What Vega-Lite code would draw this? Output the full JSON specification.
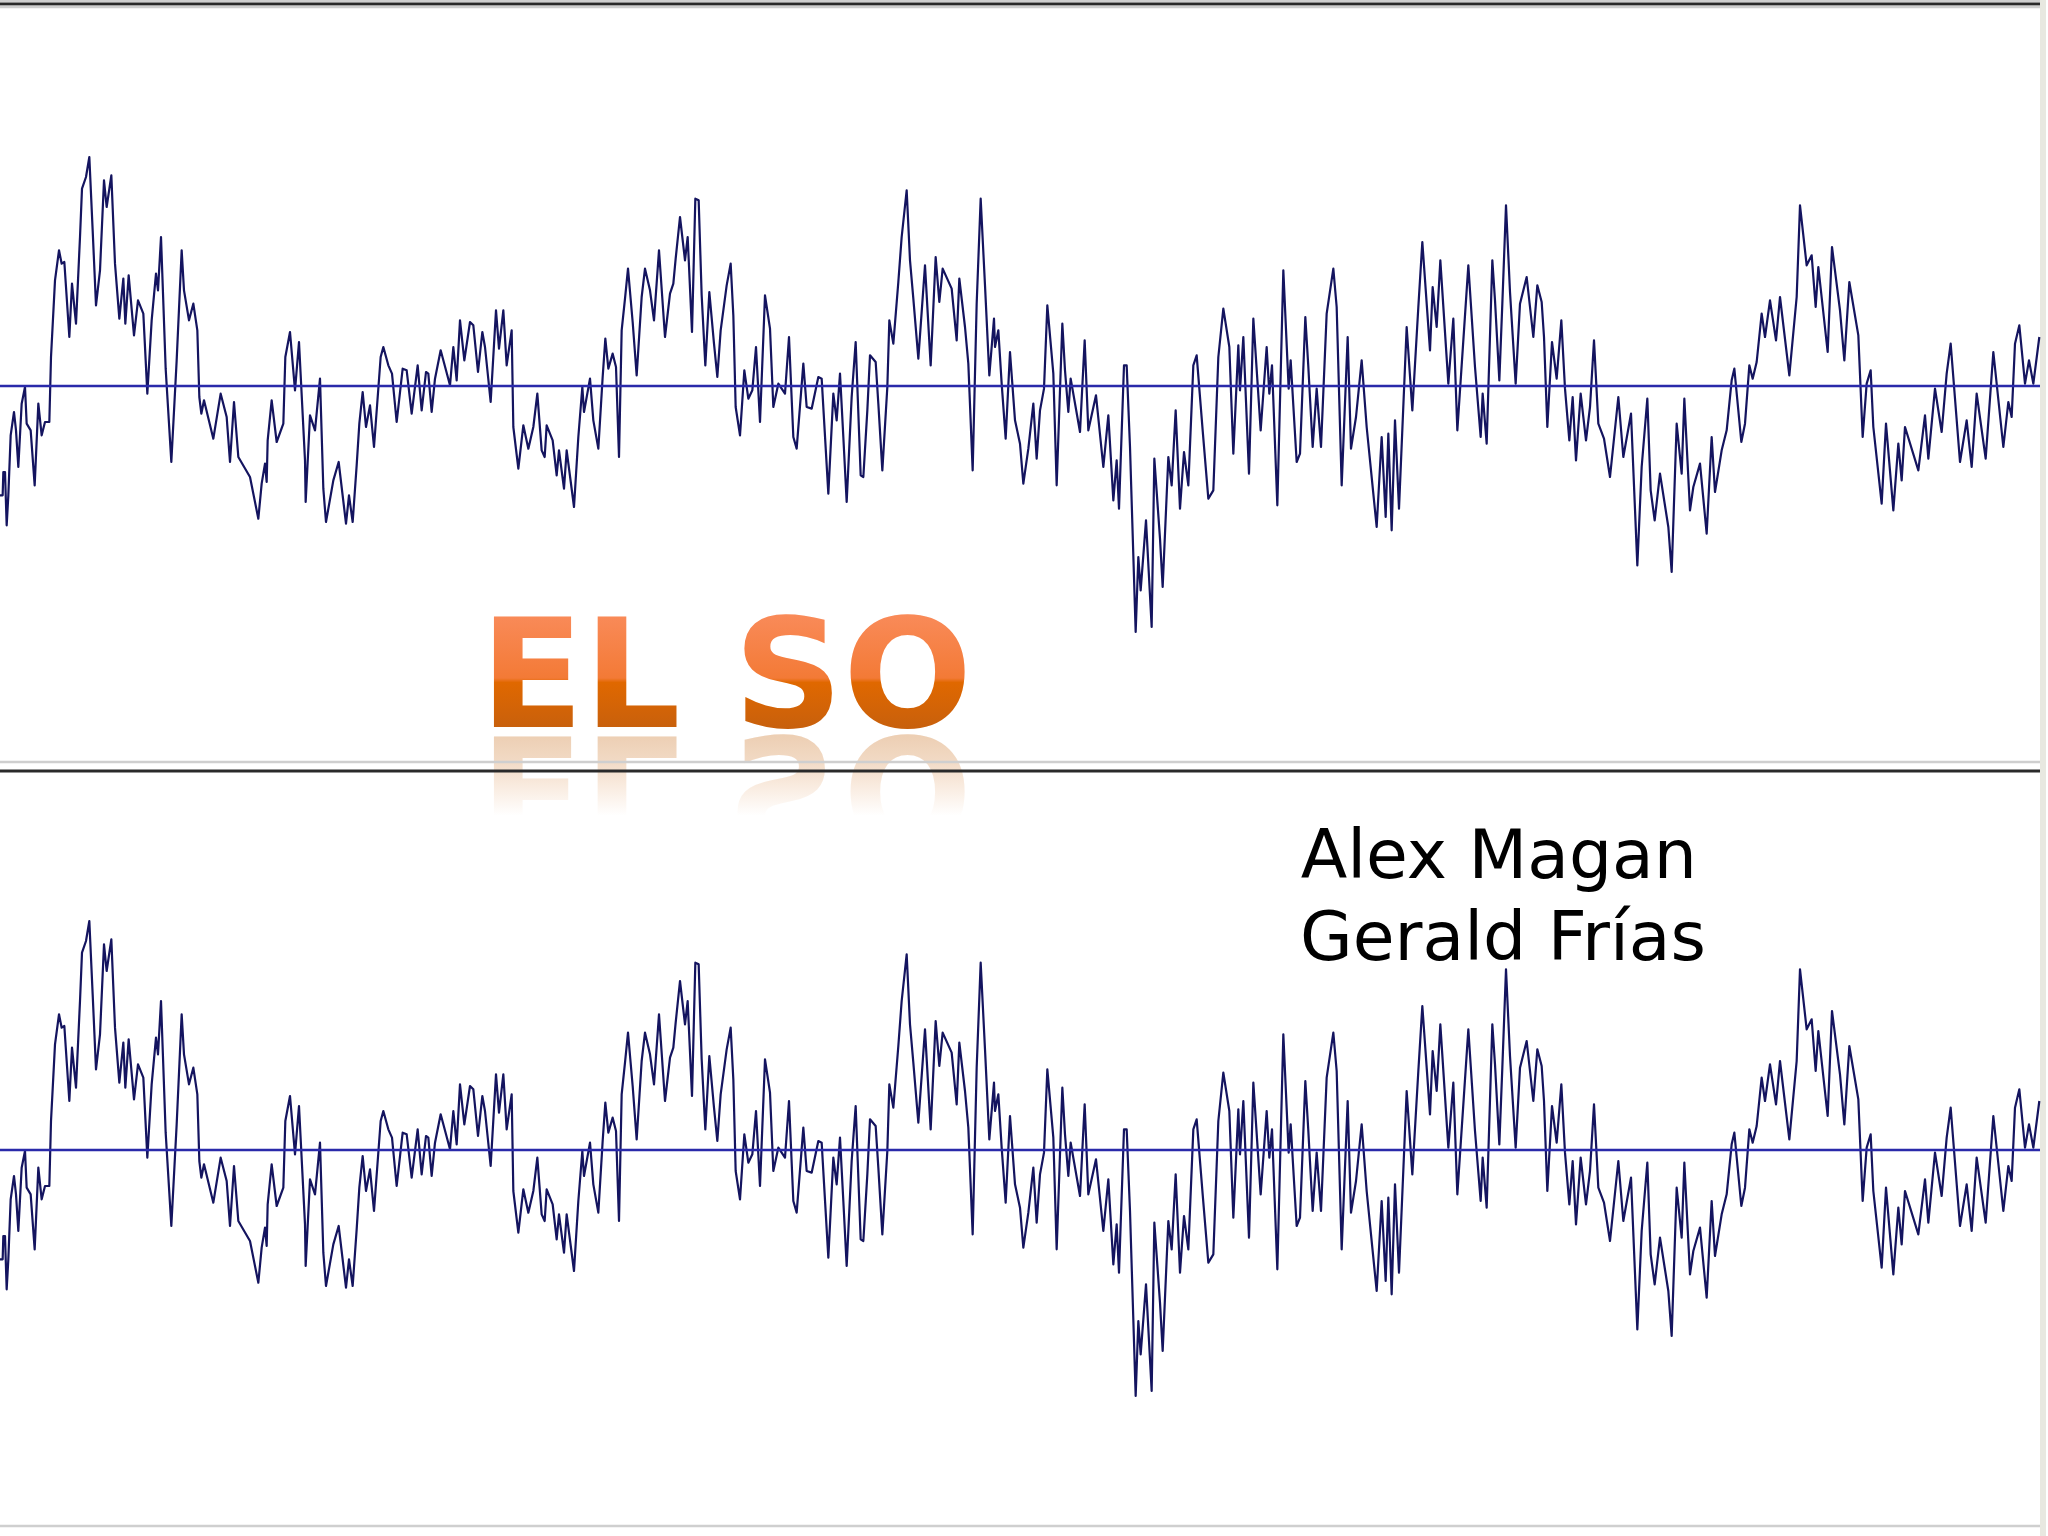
{"$schema":"https://vega.github.io/schema/vega-lite/v6.json","width":2048,"height":1536,"autosize":{"type":"fit","contains":"padding"},"padding":0,"background":"white","config":{"view":{"stroke":null}},"datasets":{"trace":[{"t":0,"a":-328},{"t":8,"a":-328},{"t":10,"a":-258},{"t":15,"a":-258},{"t":20,"a":-418},{"t":25,"a":-328},{"t":32,"a":-148},{"t":42,"a":-78},{"t":48,"a":-133},{"t":55,"a":-243},{"t":65,"a":-53},{"t":75,"a":-3},{"t":80,"a":-113},{"t":92,"a":-133},{"t":104,"a":-298},{"t":115,"a":-53},{"t":125,"a":-148},{"t":135,"a":-108},{"t":148,"a":-108},{"t":153,"a":87},{"t":165,"a":317},{"t":177,"a":407},{"t":185,"a":367},{"t":193,"a":372},{"t":208,"a":147},{"t":216,"a":307},{"t":228,"a":187},{"t":240,"a":447},{"t":246,"a":592},{"t":258,"a":627},{"t":268,"a":687},{"t":278,"a":467},{"t":288,"a":242},{"t":300,"a":347},{"t":312,"a":617},{"t":320,"a":537},{"t":334,"a":632},{"t":345,"a":367},{"t":358,"a":202},{"t":370,"a":322},{"t":376,"a":187},{"t":386,"a":332},{"t":402,"a":152},{"t":414,"a":257},{"t":430,"a":217},{"t":442,"a":-23},{"t":455,"a":197},{"t":468,"a":337},{"t":474,"a":287},{"t":483,"a":447},{"t":497,"a":52},{"t":514,"a":-228},{"t":530,"a":77},{"t":545,"a":407},{"t":552,"a":287},{"t":567,"a":197},{"t":580,"a":247},{"t":592,"a":167},{"t":598,"a":-33},{"t":604,"a":-83},{"t":612,"a":-43},{"t":640,"a":-158},{"t":662,"a":-23},{"t":680,"a":-93},{"t":690,"a":-228},{"t":702,"a":-48},{"t":715,"a":-213},{"t":750,"a":-273},{"t":775,"a":-398},{"t":785,"a":-293},{"t":795,"a":-233},{"t":800,"a":-288},{"t":803,"a":-163},{"t":815,"a":-43},{"t":830,"a":-168},{"t":850,"a":-113},{"t":856,"a":87},{"t":870,"a":162},{"t":885,"a":-13},{"t":897,"a":132},{"t":915,"a":-223},{"t":917,"a":-348},{"t":930,"a":-88},{"t":945,"a":-133},{"t":960,"a":22},{"t":970,"a":-308},{"t":978,"a":-408},{"t":1000,"a":-283},{"t":1016,"a":-228},{"t":1038,"a":-413},{"t":1047,"a":-328},{"t":1058,"a":-408},{"t":1070,"a":-238},{"t":1078,"a":-113},{"t":1088,"a":-18},{"t":1098,"a":-123},{"t":1110,"a":-58},{"t":1122,"a":-183},{"t":1142,"a":87},{"t":1150,"a":117},{"t":1165,"a":62},{"t":1176,"a":37},{"t":1190,"a":-108},{"t":1208,"a":52},{"t":1220,"a":47},{"t":1235,"a":-83},{"t":1253,"a":62},{"t":1265,"a":-73},{"t":1278,"a":42},{"t":1285,"a":37},{"t":1295,"a":-78},{"t":1305,"a":22},{"t":1322,"a":107},{"t":1350,"a":2},{"t":1360,"a":117},{"t":1370,"a":17},{"t":1380,"a":197},{"t":1393,"a":77},{"t":1410,"a":192},{"t":1420,"a":182},{"t":1434,"a":42},{"t":1447,"a":162},{"t":1455,"a":117},{"t":1472,"a":-48},{"t":1488,"a":227},{"t":1497,"a":112},{"t":1510,"a":227},{"t":1520,"a":62},{"t":1535,"a":167},{"t":1540,"a":-123},{"t":1555,"a":-248},{"t":1570,"a":-118},{"t":1585,"a":-188},{"t":1600,"a":-123},{"t":1612,"a":-23},{"t":1625,"a":-193},{"t":1634,"a":-213},{"t":1640,"a":-118},{"t":1658,"a":-163},{"t":1670,"a":-268},{"t":1677,"a":-193},{"t":1692,"a":-308},{"t":1700,"a":-193},{"t":1722,"a":-363},{"t":1735,"a":-153},{"t":1747,"a":-3},{"t":1752,"a":-78},{"t":1770,"a":22},{"t":1780,"a":-103},{"t":1795,"a":-188},{"t":1808,"a":27},{"t":1816,"a":142},{"t":1825,"a":52},{"t":1838,"a":97},{"t":1848,"a":57},{"t":1857,"a":-213},{"t":1865,"a":167},{"t":1875,"a":262},{"t":1884,"a":352},{"t":1898,"a":192},{"t":1910,"a":32},{"t":1925,"a":267},{"t":1935,"a":352},{"t":1950,"a":287},{"t":1962,"a":197},{"t":1977,"a":407},{"t":1995,"a":147},{"t":2010,"a":277},{"t":2020,"a":307},{"t":2027,"a":382},{"t":2040,"a":507},{"t":2055,"a":377},{"t":2063,"a":447},{"t":2076,"a":162},{"t":2086,"a":562},{"t":2096,"a":557},{"t":2105,"a":272},{"t":2116,"a":62},{"t":2128,"a":282},{"t":2142,"a":127},{"t":2152,"a":27},{"t":2162,"a":167},{"t":2180,"a":302},{"t":2192,"a":367},{"t":2200,"a":212},{"t":2207,"a":-63},{"t":2220,"a":-148},{"t":2233,"a":47},{"t":2245,"a":-38},{"t":2257,"a":-13},{"t":2268,"a":117},{"t":2280,"a":-108},{"t":2295,"a":272},{"t":2310,"a":172},{"t":2320,"a":-63},{"t":2335,"a":7},{"t":2355,"a":-23},{"t":2367,"a":147},{"t":2380,"a":-153},{"t":2390,"a":-188},{"t":2410,"a":67},{"t":2420,"a":-63},{"t":2435,"a":-68},{"t":2455,"a":27},{"t":2465,"a":22},{"t":2485,"a":-323},{"t":2500,"a":-23},{"t":2510,"a":-103},{"t":2520,"a":37},{"t":2530,"a":-153},{"t":2540,"a":-348},{"t":2555,"a":-33},{"t":2567,"a":132},{"t":2582,"a":-268},{"t":2590,"a":-273},{"t":2602,"a":-73},{"t":2610,"a":92},{"t":2627,"a":72},{"t":2635,"a":-53},{"t":2647,"a":-253},{"t":2662,"a":-3},{"t":2668,"a":197},{"t":2680,"a":127},{"t":2695,"a":312},{"t":2705,"a":447},{"t":2720,"a":587},{"t":2730,"a":377},{"t":2740,"a":262},{"t":2755,"a":82},{"t":2775,"a":362},{"t":2792,"a":62},{"t":2807,"a":387},{"t":2818,"a":252},{"t":2828,"a":352},{"t":2855,"a":292},{"t":2870,"a":137},{"t":2878,"a":322},{"t":2895,"a":177},{"t":2905,"a":67},{"t":2918,"a":-253},{"t":2930,"a":247},{"t":2942,"a":562},{"t":2955,"a":302},{"t":2968,"a":32},{"t":2982,"a":202},{"t":2985,"a":117},{"t":2995,"a":167},{"t":3005,"a":7},{"t":3017,"a":-158},{"t":3030,"a":102},{"t":3045,"a":-103},{"t":3060,"a":-173},{"t":3070,"a":-293},{"t":3085,"a":-188},{"t":3100,"a":-53},{"t":3110,"a":-218},{"t":3120,"a":-73},{"t":3132,"a":-8},{"t":3142,"a":242},{"t":3160,"a":37},{"t":3170,"a":-298},{"t":3187,"a":187},{"t":3195,"a":47},{"t":3205,"a":-78},{"t":3212,"a":22},{"t":3240,"a":-138},{"t":3254,"a":137},{"t":3265,"a":-133},{"t":3288,"a":-28},{"t":3310,"a":-243},{"t":3325,"a":-88},{"t":3340,"a":-343},{"t":3350,"a":-223},{"t":3357,"a":-368},{"t":3372,"a":62},{"t":3380,"a":62},{"t":3390,"a":-183},{"t":3407,"a":-738},{"t":3415,"a":-513},{"t":3422,"a":-613},{"t":3438,"a":-403},{"t":3455,"a":-723},{"t":3463,"a":-218},{"t":3480,"a":-458},{"t":3488,"a":-603},{"t":3505,"a":-213},{"t":3515,"a":-298},{"t":3527,"a":-73},{"t":3540,"a":-368},{"t":3552,"a":-198},{"t":3565,"a":-298},{"t":3580,"a":62},{"t":3590,"a":92},{"t":3608,"a":-133},{"t":3625,"a":-338},{"t":3640,"a":-313},{"t":3655,"a":87},{"t":3670,"a":232},{"t":3688,"a":117},{"t":3700,"a":-203},{"t":3715,"a":122},{"t":3720,"a":-13},{"t":3730,"a":147},{"t":3747,"a":-263},{"t":3760,"a":202},{"t":3782,"a":-133},{"t":3800,"a":117},{"t":3808,"a":-23},{"t":3816,"a":62},{"t":3832,"a":-358},{"t":3850,"a":347},{"t":3866,"a":-8},{"t":3872,"a":77},{"t":3890,"a":-228},{"t":3900,"a":-203},{"t":3916,"a":207},{"t":3925,"a":57},{"t":3938,"a":-183},{"t":3950,"a":-8},{"t":3963,"a":-183},{"t":3980,"a":217},{"t":4000,"a":352},{"t":4010,"a":237},{"t":4025,"a":-298},{"t":4043,"a":147},{"t":4053,"a":-188},{"t":4068,"a":-93},{"t":4085,"a":77},{"t":4100,"a":-123},{"t":4130,"a":-423},{"t":4145,"a":-153},{"t":4157,"a":-393},{"t":4165,"a":-143},{"t":4175,"a":-433},{"t":4185,"a":-103},{"t":4197,"a":-368},{"t":4220,"a":177},{"t":4237,"a":-73},{"t":4255,"a":237},{"t":4267,"a":432},{"t":4290,"a":107},{"t":4298,"a":297},{"t":4310,"a":177},{"t":4321,"a":377},{"t":4345,"a":7},{"t":4360,"a":202},{"t":4372,"a":-133},{"t":4405,"a":362},{"t":4425,"a":57},{"t":4442,"a":-153},{"t":4448,"a":-23},{"t":4460,"a":-173},{"t":4477,"a":377},{"t":4485,"a":257},{"t":4498,"a":17},{"t":4507,"a":247},{"t":4518,"a":542},{"t":4530,"a":282},{"t":4547,"a":7},{"t":4560,"a":247},{"t":4580,"a":327},{"t":4600,"a":147},{"t":4612,"a":302},{"t":4625,"a":252},{"t":4632,"a":147},{"t":4642,"a":-123},{"t":4656,"a":132},{"t":4670,"a":22},{"t":4684,"a":197},{"t":4695,"a":-8},{"t":4708,"a":-163},{"t":4718,"a":-33},{"t":4728,"a":-223},{"t":4742,"a":-23},{"t":4758,"a":-163},{"t":4770,"a":-63},{"t":4782,"a":137},{"t":4795,"a":-113},{"t":4812,"a":-158},{"t":4830,"a":-273},{"t":4855,"a":-33},{"t":4870,"a":-213},{"t":4893,"a":-83},{"t":4912,"a":-538},{"t":4925,"a":-243},{"t":4942,"a":-38},{"t":4952,"a":-313},{"t":4964,"a":-403},{"t":4980,"a":-263},{"t":5005,"a":-423},{"t":5015,"a":-558},{"t":5030,"a":-113},{"t":5045,"a":-263},{"t":5053,"a":-38},{"t":5070,"a":-373},{"t":5080,"a":-303},{"t":5100,"a":-233},{"t":5120,"a":-443},{"t":5135,"a":-153},{"t":5145,"a":-318},{"t":5165,"a":-193},{"t":5180,"a":-133},{"t":5195,"a":17},{"t":5203,"a":52},{"t":5224,"a":-168},{"t":5235,"a":-113},{"t":5248,"a":62},{"t":5258,"a":22},{"t":5270,"a":72},{"t":5285,"a":217},{"t":5295,"a":147},{"t":5310,"a":257},{"t":5328,"a":137},{"t":5340,"a":267},{"t":5368,"a":32},{"t":5390,"a":267},{"t":5400,"a":542},{"t":5420,"a":362},{"t":5435,"a":392},{"t":5447,"a":237},{"t":5455,"a":357},{"t":5483,"a":102},{"t":5496,"a":417},{"t":5520,"a":227},{"t":5533,"a":77},{"t":5548,"a":312},{"t":5575,"a":152},{"t":5588,"a":-153},{"t":5600,"a":7},{"t":5612,"a":47},{"t":5620,"a":-123},{"t":5645,"a":-353},{"t":5658,"a":-113},{"t":5680,"a":-373},{"t":5695,"a":-173},{"t":5705,"a":-283},{"t":5715,"a":-123},{"t":5755,"a":-253},{"t":5775,"a":-88},{"t":5785,"a":-218},{"t":5805,"a":-8},{"t":5825,"a":-138},{"t":5840,"a":37},{"t":5852,"a":127},{"t":5880,"a":-228},{"t":5900,"a":-103},{"t":5915,"a":-243},{"t":5930,"a":-23},{"t":5957,"a":-218},{"t":5980,"a":102},{"t":6010,"a":-183},{"t":6025,"a":-48},{"t":6035,"a":-93},{"t":6045,"a":127},{"t":6058,"a":182},{"t":6075,"a":7},{"t":6087,"a":77},{"t":6100,"a":7},{"t":6118,"a":147}],"dividers":[{"a":1155,"kind":"soft"},{"a":1146,"kind":"dark"},{"a":1137,"kind":"soft"},{"a":-1128,"kind":"soft"},{"a":-1155,"kind":"dark"},{"a":-3420,"kind":"soft"}],"zero":[{"a":0}],"title":[{"label":"EL SO","t":1440,"a":-1023}],"reflection":[{"label":"EΓ ƧO","t":1440,"a":-1383}],"names":[{"label":"Alex Magan","t":3902,"a":-1476},{"label":"Gerald Frías","t":3900,"a":-1722}]},"layer":[{"data":{"values":[{"t":6129}]},"mark":{"type":"rule","color":"#e8e8e0","strokeWidth":6,"clip":true},"encoding":{"x":{"field":"t","type":"quantitative","scale":{"domain":[0,6144],"nice":false,"zero":false},"axis":null}}},{"data":{"name":"reflection"},"mark":{"type":"text","align":"left","baseline":"alphabetic","font":"DejaVu Sans","fontWeight":"bold","fontSize":152,"fill":{"gradient":"linear","x1":0,"y1":0,"x2":0,"y2":1,"stops":[{"offset":0.17,"color":"#edcfb4"},{"offset":0.3,"color":"#f1d9c3"},{"offset":0.45,"color":"#f9ebdf"},{"offset":0.62,"color":"#ffffff"},{"offset":1,"color":"#ffffff"}]}},"encoding":{"x":{"field":"t","type":"quantitative","scale":{"domain":[0,6144],"nice":false,"zero":false},"axis":null},"y":{"field":"a","type":"quantitative","scale":{"domain":[-3450,1158],"nice":false,"zero":false},"axis":null},"text":{"field":"label"}}},{"data":{"name":"dividers"},"mark":{"type":"rule","clip":true},"encoding":{"x":{"datum":0,"type":"quantitative","scale":{"domain":[0,6144],"nice":false,"zero":false},"axis":null},"x2":{"datum":6120},"y":{"field":"a","type":"quantitative","scale":{"domain":[-3450,1158],"nice":false,"zero":false},"axis":null},"color":{"field":"kind","type":"nominal","scale":{"domain":["soft","dark"],"range":["#cfcfcf","#2a2a2a"]},"legend":null},"strokeWidth":{"field":"kind","type":"nominal","scale":{"domain":["soft","dark"],"range":[2.5,3]},"legend":null}}},{"data":{"name":"trace"},"mark":{"type":"line","color":"#14145f","strokeWidth":2.2,"strokeJoin":"round","clip":true},"encoding":{"x":{"field":"t","type":"quantitative","scale":{"domain":[0,6144],"nice":false,"zero":false},"axis":null},"y":{"field":"a","type":"quantitative","scale":{"domain":[-3450,1158],"nice":false,"zero":false},"axis":null}}},{"data":{"name":"trace"},"mark":{"type":"line","color":"#14145f","strokeWidth":2.2,"strokeJoin":"round","clip":true},"encoding":{"x":{"field":"t","type":"quantitative","scale":{"domain":[0,6144],"nice":false,"zero":false},"axis":null},"y":{"field":"a","type":"quantitative","scale":{"domain":[-1158,3450],"nice":false,"zero":false},"axis":null}}},{"data":{"name":"zero"},"mark":{"type":"rule","color":"#2a2aaa","strokeWidth":2.6,"clip":true},"encoding":{"x":{"datum":0,"type":"quantitative","scale":{"domain":[0,6144],"nice":false,"zero":false},"axis":null},"x2":{"datum":6120},"y":{"field":"a","type":"quantitative","scale":{"domain":[-3450,1158],"nice":false,"zero":false},"axis":null}}},{"data":{"name":"zero"},"mark":{"type":"rule","color":"#2a2aaa","strokeWidth":2.6,"clip":true},"encoding":{"x":{"datum":0,"type":"quantitative","scale":{"domain":[0,6144],"nice":false,"zero":false},"axis":null},"x2":{"datum":6120},"y":{"field":"a","type":"quantitative","scale":{"domain":[-1158,3450],"nice":false,"zero":false},"axis":null}}},{"data":{"name":"title"},"mark":{"type":"text","align":"left","baseline":"alphabetic","font":"DejaVu Sans","fontWeight":"bold","fontSize":152,"fill":{"gradient":"linear","x1":0,"y1":0,"x2":0,"y2":1,"stops":[{"offset":0.17,"color":"#f98a58"},{"offset":0.52,"color":"#f37a36"},{"offset":0.545,"color":"#e06800"},{"offset":0.8,"color":"#c8600c"}]}},"encoding":{"x":{"field":"t","type":"quantitative","scale":{"domain":[0,6144],"nice":false,"zero":false},"axis":null},"y":{"field":"a","type":"quantitative","scale":{"domain":[-3450,1158],"nice":false,"zero":false},"axis":null},"text":{"field":"label"}}},{"data":{"name":"names"},"mark":{"type":"text","align":"left","baseline":"alphabetic","font":"DejaVu Sans","fontSize":68,"color":"#000000"},"encoding":{"x":{"field":"t","type":"quantitative","scale":{"domain":[0,6144],"nice":false,"zero":false},"axis":null},"y":{"field":"a","type":"quantitative","scale":{"domain":[-3450,1158],"nice":false,"zero":false},"axis":null},"text":{"field":"label"}}}],"resolve":{"scale":{"y":"independent"}}}
